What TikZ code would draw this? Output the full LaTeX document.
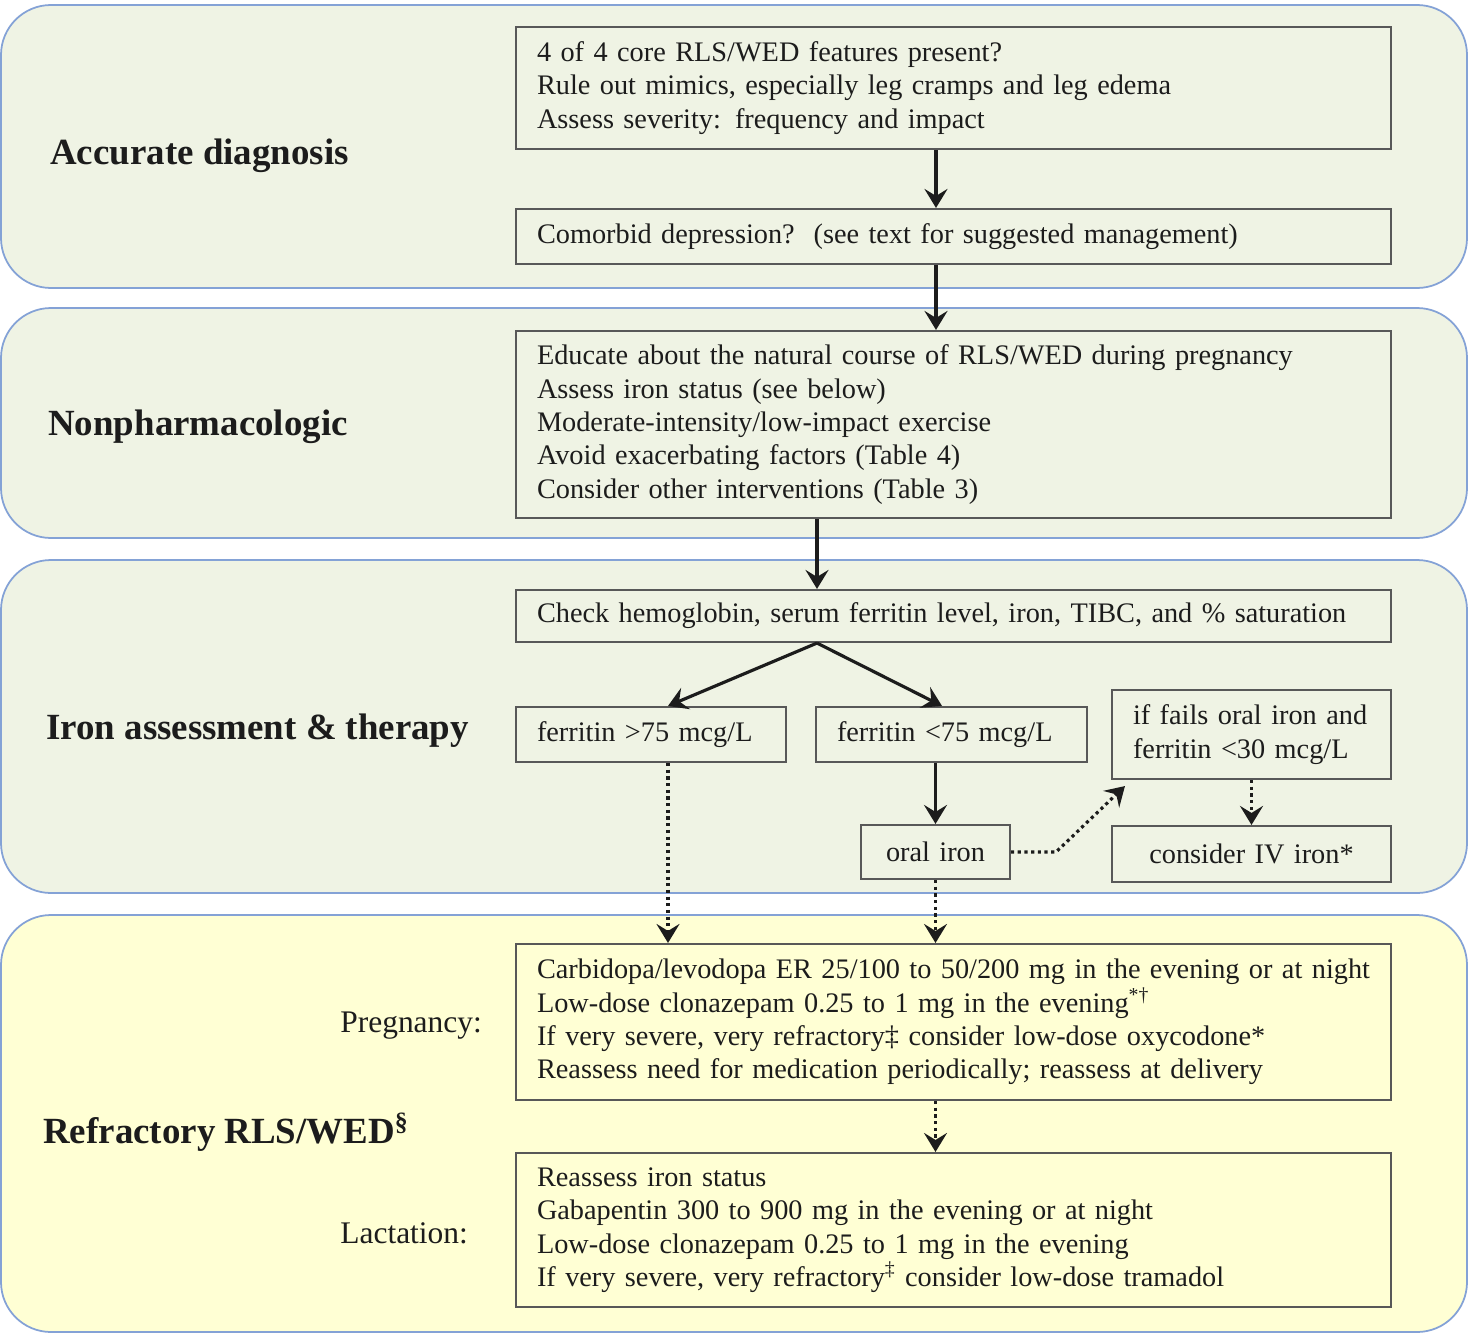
\documentclass[tikz,border=0pt]{standalone}
\usepackage{fontspec}
\setmainfont{Liberation Serif}
\usetikzlibrary{arrows.meta,positioning}
\definecolor{panelgreen}{RGB}{239,243,228}
\definecolor{panelyellow}{RGB}{255,255,212}
\definecolor{panelblue}{RGB}{132,162,214}
\definecolor{boxgray}{RGB}{88,88,88}
\definecolor{inkdark}{RGB}{28,28,28}

\begin{document}
\begin{tikzpicture}[every node/.style={font=\fontsize{16.1}{19}\selectfont, text=inkdark},
  panel/.style={draw=panelblue, line width=1pt, rounded corners=1cm},
  box/.style={draw=boxgray, line width=1.2pt, inner xsep=0.42cm, inner ysep=0pt, minimum height=#1},
  head/.style={anchor=west, inner sep=0pt, font=\fontsize{21}{24}\selectfont\bfseries},
  sublab/.style={anchor=west, inner sep=0pt, font=\fontsize{17.9}{21}\selectfont},
  arr/.style={-{Stealth[length=0.38cm, width=0.46cm, inset=0.14cm]}, line width=1.8pt, draw=inkdark},
  dotarr/.style={arr, dash pattern=on 1.8pt off 2pt}]
  \useasboundingbox (0,0) rectangle (29.36,-26.7);

  % panels
  \draw[panel, fill=panelgreen] (0.02,-0.1) rectangle (29.34,-5.76);
  \draw[panel, fill=panelgreen] (0.02,-6.16) rectangle (29.34,-10.76);
  \draw[panel, fill=panelgreen] (0.02,-11.2) rectangle (29.34,-17.86);
  \draw[panel, fill=panelyellow] (0.02,-18.3) rectangle (29.34,-26.64);

  % panel titles
  \node[head] (tdiag) at (1.0,-3.12) {Accurate diagnosis};
  \node[head] (tnon) at (0.96,-8.54) {Nonpharmacologic};
  \node[head] (tiron) at (0.92,-14.62) {Iron assessment \& therapy};
  \node[head] (tref) at (0.86,-22.64) {Refractory RLS/WED\textsuperscript{§}};
  \node[sublab] (lpreg) at (6.8,-20.52) {Pregnancy:};
  \node[sublab] (llact) at (6.8,-24.66) {Lactation:};

  % boxes
  \node[box=2.44cm, text width=16.66cm, align=left] (feat) at (19.07,-1.76)
    {4 of 4 core RLS/WED features present?\\Rule out mimics, especially leg cramps and leg edema\\Assess severity: frequency and impact};
  \node[box=1.1cm, text width=16.66cm, align=left] (como) at (19.07,-4.73)
    {Comorbid depression?\ \ (see text for suggested management)};
  \node[box=3.74cm, text width=16.66cm, align=left] (edu) at (19.07,-8.49)
    {Educate about the natural course of RLS/WED during pregnancy\\Assess iron status (see below)\\Moderate-intensity/low-impact exercise\\Avoid exacerbating factors (Table 4)\\Consider other interventions (Table 3)};
  \node[box=1.04cm, text width=16.66cm, align=left] (chk) at (19.07,-12.32)
    {Check hemoglobin, serum ferritin level, iron, TIBC, and \% saturation};
  \node[box=1.1cm, text width=4.56cm, align=left] (hi) at (13.02,-14.69) {ferritin >75 mcg/L};
  \node[box=1.1cm, text width=4.58cm, align=left] (lo) at (19.03,-14.69) {ferritin <75 mcg/L};
  \node[box=1.78cm, text width=4.74cm, align=left] (fail) at (25.03,-14.69)
    {if fails oral iron and\\ferritin <30 mcg/L};
  \node[box=1.08cm, text width=2.14cm, align=center] (oral) at (18.71,-17.04) {oral iron};
  \node[box=1.12cm, text width=4.74cm, align=center] (iv) at (25.03,-17.08) {consider IV iron*};
  \node[box=3.12cm, text width=16.66cm, align=left] (preg) at (19.07,-20.44)
    {Carbidopa/levodopa ER 25/100 to 50/200 mg in the evening or at night\\Low-dose clonazepam 0.25 to 1 mg in the evening\textsuperscript{*†}\\If very severe, very refractory‡ consider low-dose oxycodone*\\Reassess need for medication periodically; reassess at delivery};
  \node[box=3.08cm, text width=16.66cm, align=left] (lact) at (19.07,-24.6)
    {Reassess iron status\\Gabapentin 300 to 900 mg in the evening or at night\\Low-dose clonazepam 0.25 to 1 mg in the evening\\If very severe, very refractory\textsuperscript{‡} consider low-dose tramadol};

  % arrow columns
  \coordinate (midx) at (18.72,0);
  \coordinate (leftx) at (16.34,0);
  \coordinate (lowx) at (13.36,0);

  \draw[arr] (feat.south -| midx) -- (como.north -| midx);
  \draw[arr] (como.south -| midx) -- (edu.north -| midx);
  \draw[arr] (edu.south -| leftx) -- (chk.north -| leftx);
  \draw[arr] (chk.south -| leftx) -- (hi.north -| lowx);
  \draw[arr] (chk.south -| leftx) -- ([xshift=-0.19cm]lo.north);
  \draw[arr] (lo.south -| oral.north) -- (oral.north);
  \draw[dotarr] (hi.south -| lowx) -- (preg.north -| lowx);
  \draw[dotarr] (oral.south) -- (preg.north -| oral.south);
  \draw[dotarr] (oral.east) -- ++(0.9,0) -- ([xshift=0.28cm, yshift=-0.12cm]fail.south west);
  \draw[dotarr] (fail.south) -- (iv.north);
  \draw[dotarr] (preg.south -| oral.south) -- (lact.north -| oral.south);
\end{tikzpicture}
\end{document}
